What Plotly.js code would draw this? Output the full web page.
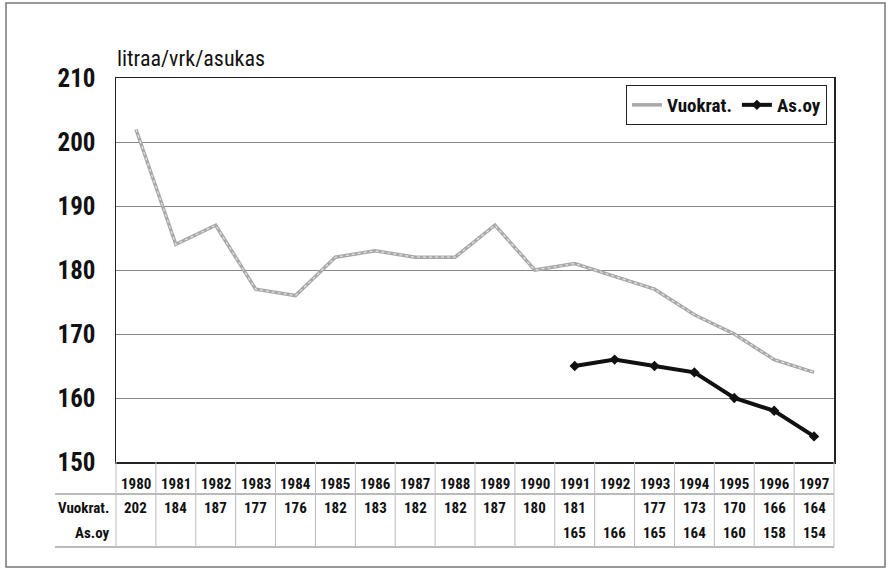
<!DOCTYPE html>
<html><head><meta charset="utf-8">
<script src="https://cdn.plot.ly/plotly-3.0.1.min.js"></script>
<style>html,body{margin:0;padding:0;background:#fff}#c{width:893px;height:575px}</style>
</head><body><div id="c"></div>
<script>
const years = ['1980','1981','1982','1983','1984','1985','1986','1987','1988','1989','1990','1991','1992','1993','1994','1995','1996','1997'];
const vuokrat = [202,184,187,177,176,182,183,182,182,187,180,181,179,177,173,170,166,164];
const vuokratTable = ['202','184','187','177','176','182','183','182','182','187','180','181','','177','173','170','166','164'];
const asoy = [null,null,null,null,null,null,null,null,null,null,null,165,166,165,164,160,158,154];
const rowLabels = ['Vuokrat.','As.oy'];
const yTitle = 'litraa/vrk/asukas';

const FONT = '"Liberation Sans Narrow","Arial Narrow","Roboto Condensed",Roboto,sans-serif';
const TXT = '#111';
const W = 'bold';

const traces = [
  {x: years, y: vuokrat, name: 'Vuokrat.', type:'scatter', mode:'lines',
   line:{color:'#a8a8a8', width:3.5}},
  {x: years, y: vuokrat, name: 'Vuokrat.', type:'scatter', mode:'lines', showlegend:false,
   line:{color:'#e4e4e4', width:1.2, dash:'dot'}, hoverinfo:'skip'},
  {x: years, y: asoy, name: 'As.oy', type:'scatter', mode:'lines+markers',
   line:{color:'#111', width:4}, marker:{symbol:'diamond', size:8, color:'#111'}}
];

const pY = py => (462 - py) / 384;
const pX = px => (px - 116) / 718;
const colX = i => (i + 0.5) / years.length;

const shapes = [];
const annotations = [];
const ann = (x, y, text, size, xanchor, weight) => annotations.push({
  x, y, xref:'paper', yref:'paper', text, showarrow:false,
  xanchor: xanchor || 'center', yanchor:'middle',
  font:{family:FONT, size, color:TXT, weight: weight || W}});

// outer frame
shapes.push({type:'rect', xref:'paper', yref:'paper', x0:pX(6), x1:pX(885), y0:pY(567), y1:pY(3), line:{color:'#777', width:1.5}});
// table horizontal lines
[494, 547].forEach(py => shapes.push({type:'line', xref:'paper', yref:'paper', x0:pX(55), x1:1, y0:pY(py), y1:pY(py), line:{color:'#777', width:1}}));
// table vertical lines
for (let i = 0; i <= years.length; i++) {
  shapes.push({type:'line', xref:'paper', yref:'paper', x0:i/years.length, x1:i/years.length, y0:pY(462), y1:pY(547), line:{color:'#bbb', width:1}});
}
// year row and values
years.forEach((yr, i) => {
  ann(colX(i), pY(484), yr, 15);
  if (vuokratTable[i]) ann(colX(i), pY(508), vuokratTable[i], 15);
  if (asoy[i] !== null) ann(colX(i), pY(533), String(asoy[i]), 15);
});
ann(pX(111), pY(508), rowLabels[0], 15, 'right');
ann(pX(111), pY(533), rowLabels[1], 15, 'right');
ann(pX(115), pY(59), yTitle, 22, 'left', 'normal');

const layout = {
  width: 893, height: 575,
  margin: {l:116, r:59, t:78, b:113},
  paper_bgcolor:'#fff', plot_bgcolor:'#fff',
  font: {family: FONT, color: TXT},
  showlegend: true,
  legend: {x: pX(827), xanchor:'right', y: pY(85), yanchor:'top', orientation:'h',
    bordercolor:'#222', borderwidth:1, bgcolor:'#fff', font:{family:FONT, size:19, color:TXT, weight:'bold'},
    itemwidth:30, tracegroupgap:0},
  xaxis: {type:'category', range:[-0.5, 17.5], showticklabels:false, ticks:'',
    showline:true, mirror:true, linecolor:'#222', linewidth:1.5, showgrid:false, zeroline:false, fixedrange:true},
  yaxis: {range:[150,210], dtick:10, tick0:150, showline:true, mirror:true, linecolor:'#222', linewidth:1.5,
    gridcolor:'#888', gridwidth:1, ticks:'', ticklabelstandoff:14,
    tickfont:{family:FONT, size:25, color:TXT, weight:'bold'}, zeroline:false},
  shapes, annotations
};
Plotly.newPlot('c', traces, layout, {staticPlot:true, displayModeBar:false});
</script></body></html>
